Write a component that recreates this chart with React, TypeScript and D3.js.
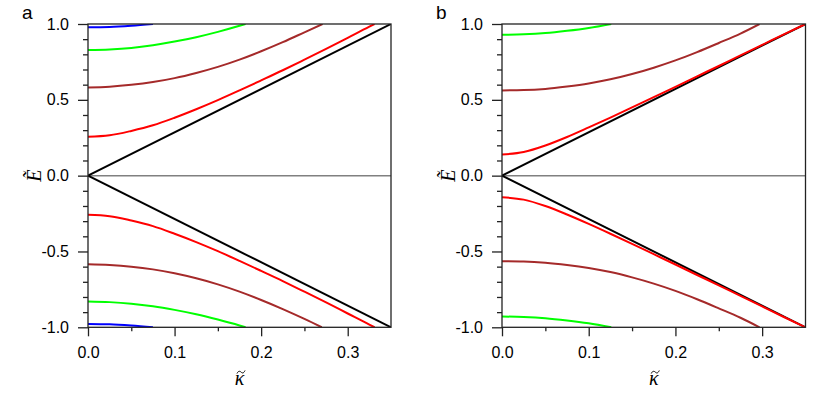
import { useRef, useEffect } from "react";
import * as d3 from "d3";

type Pt = [number, number];

// axis ticks
const kMajor = [0, 0.1, 0.2, 0.3];
const kMajorLabels = ["0.0", "0.1", "0.2", "0.3"];
const kMinor = [0.05, 0.15, 0.25];
const eMajor = [-1, -0.5, 0, 0.5, 1];
const eMajorLabels = ["-1.0", "-0.5", "0.0", "0.5", "1.0"];
const eMinor = [-0.9, -0.8, -0.7, -0.6, -0.4, -0.3, -0.2, -0.1, 0.1, 0.2, 0.3, 0.4, 0.6, 0.7, 0.8, 0.9];

// panel a bands
const aBlueUp: Pt[] = [[0, 0.978], [0.025, 0.980], [0.05, 0.988], [0.075, 1.0]];
const aBlueDown: Pt[] = [[0, -0.978], [0.025, -0.980], [0.05, -0.988], [0.075, -1.0]];
const aGreenUp: Pt[] = [[0, 0.828], [0.025, 0.832], [0.05, 0.842], [0.075, 0.86], [0.1, 0.884], [0.125, 0.913], [0.15, 0.948], [0.175, 0.988], [0.182, 1.0]];
const aGreenDown: Pt[] = [[0, -0.83], [0.025, -0.834], [0.05, -0.844], [0.075, -0.861], [0.1, -0.885], [0.125, -0.914], [0.15, -0.949], [0.175, -0.988], [0.182, -1.0]];
const aBrownUp: Pt[] = [[0, 0.582], [0.025, 0.587], [0.05, 0.599], [0.075, 0.617], [0.1, 0.643], [0.125, 0.677], [0.15, 0.717], [0.175, 0.765], [0.2, 0.82], [0.225, 0.88], [0.25, 0.945], [0.271, 1.0]];
const aBrownDown: Pt[] = [[0, -0.584], [0.025, -0.589], [0.05, -0.6], [0.075, -0.618], [0.1, -0.644], [0.125, -0.677], [0.15, -0.717], [0.175, -0.765], [0.2, -0.82], [0.225, -0.88], [0.25, -0.945], [0.27, -1.0]];
const aRedUp: Pt[] = [[0, 0.256], [0.025, 0.266], [0.05, 0.295], [0.075, 0.332], [0.1, 0.382], [0.125, 0.438], [0.15, 0.498], [0.175, 0.562], [0.2, 0.628], [0.225, 0.695], [0.25, 0.765], [0.275, 0.836], [0.3, 0.909], [0.325, 0.982], [0.331, 1.0]];
const aRedDown: Pt[] = [[0, -0.258], [0.025, -0.267], [0.05, -0.296], [0.075, -0.333], [0.1, -0.383], [0.125, -0.438], [0.15, -0.498], [0.175, -0.562], [0.2, -0.628], [0.225, -0.695], [0.25, -0.765], [0.275, -0.836], [0.3, -0.909], [0.325, -0.982], [0.331, -1.0]];
const blackUp: Pt[] = [[0, 0], [0.35, 1.0]];
const blackDown: Pt[] = [[0, 0], [0.35, -1.0]];

// panel b bands
const bGreenUp: Pt[] = [[0, 0.929], [0.025, 0.932], [0.05, 0.94], [0.075, 0.955], [0.1, 0.974], [0.126, 1.0]];
const bGreenDown: Pt[] = [[0, -0.929], [0.025, -0.932], [0.05, -0.94], [0.075, -0.955], [0.1, -0.974], [0.126, -1.0]];
const bBrownUp: Pt[] = [[0, 0.562], [0.025, 0.564], [0.05, 0.572], [0.075, 0.588], [0.1, 0.608], [0.125, 0.635], [0.15, 0.67], [0.175, 0.712], [0.2, 0.76], [0.225, 0.815], [0.25, 0.875], [0.275, 0.937], [0.297, 1.0]];
const bBrownDown: Pt[] = [[0, -0.564], [0.025, -0.566], [0.05, -0.574], [0.075, -0.589], [0.1, -0.609], [0.125, -0.636], [0.15, -0.671], [0.175, -0.712], [0.2, -0.76], [0.225, -0.815], [0.25, -0.875], [0.275, -0.937], [0.297, -1.0]];
const bRedUp: Pt[] = [[0, 0.139], [0.025, 0.156], [0.05, 0.199], [0.075, 0.255], [0.1, 0.318], [0.125, 0.383], [0.15, 0.45], [0.175, 0.518], [0.2, 0.586], [0.225, 0.655], [0.25, 0.723], [0.275, 0.793], [0.3, 0.862], [0.325, 0.932], [0.35, 1.0]];
const bRedDown: Pt[] = [[0, -0.142], [0.025, -0.158], [0.05, -0.2], [0.075, -0.256], [0.1, -0.318], [0.125, -0.383], [0.15, -0.45], [0.175, -0.518], [0.2, -0.586], [0.225, -0.655], [0.25, -0.723], [0.275, -0.793], [0.3, -0.862], [0.325, -0.932], [0.35, -1.0]];

const BLUE = "#0000ff";
const GREEN = "#00ff00";
const BROWN = "#a52a2a";
const RED = "#ff0000";
const BLACK = "#000000";

const panels = [
  {
    label: "a",
    left: 88,
    right: 391,
    curves: [
      { pts: blackUp, color: BLACK },
      { pts: blackDown, color: BLACK },
      { pts: aBlueUp, color: BLUE },
      { pts: aBlueDown, color: BLUE },
      { pts: aGreenUp, color: GREEN },
      { pts: aGreenDown, color: GREEN },
      { pts: aBrownUp, color: BROWN },
      { pts: aBrownDown, color: BROWN },
      { pts: aRedUp, color: RED },
      { pts: aRedDown, color: RED },
    ],
  },
  {
    label: "b",
    left: 502,
    right: 805.5,
    curves: [
      { pts: blackUp, color: BLACK },
      { pts: blackDown, color: BLACK },
      { pts: bGreenUp, color: GREEN },
      { pts: bGreenDown, color: GREEN },
      { pts: bBrownUp, color: BROWN },
      { pts: bBrownDown, color: BROWN },
      { pts: bRedUp, color: RED },
      { pts: bRedDown, color: RED },
    ],
  },
];

const width = 830;
const height = 396;
const top = 24;
const bottom = 327.3;
const sans = "'Liberation Sans', Arial, sans-serif";
const serif = "'Liberation Serif', 'Times New Roman', serif";
const axisColor = "#222";

export default function App() {
  const svgRef = useRef<SVGSVGElement>(null);

  useEffect(() => {
    const svg = d3.select(svgRef.current);
    svg.selectAll("*").remove();

    panels.forEach((p, pi) => {
      const x = d3.scaleLinear().domain([0, 0.35]).range([p.left, p.right]);
      const y = d3.scaleLinear().domain([-1, 1]).range([bottom, top]);
      const g = svg.append("g");

      const clipId = `clip-${pi}`;
      svg
        .append("defs")
        .append("clipPath")
        .attr("id", clipId)
        .append("rect")
        .attr("x", p.left)
        .attr("y", top)
        .attr("width", p.right - p.left)
        .attr("height", bottom - top);

      // zero line
      g.append("line")
        .attr("x1", x(0))
        .attr("x2", x(0.35))
        .attr("y1", y(0))
        .attr("y2", y(0))
        .attr("stroke", "#808080")
        .attr("stroke-width", 1.5);

      const line = d3
        .line<Pt>()
        .x((d) => x(d[0]))
        .y((d) => y(d[1]))
        .curve(d3.curveMonotoneX);

      const curves = g.append("g").attr("clip-path", `url(#${clipId})`);
      p.curves.forEach((c) => {
        curves
          .append("path")
          .attr("d", line(c.pts))
          .attr("fill", "none")
          .attr("stroke", c.color)
          .attr("stroke-width", 2);
      });

      // frame
      g.append("rect")
        .attr("x", p.left)
        .attr("y", top)
        .attr("width", p.right - p.left)
        .attr("height", bottom - top)
        .attr("fill", "none")
        .attr("stroke", axisColor)
        .attr("stroke-width", 1.3);

      // x axis
      const xMajor = g
        .append("g")
        .attr("transform", `translate(0,${bottom})`)
        .call(
          d3
            .axisBottom(x)
            .tickValues(kMajor)
            .tickSize(9)
            .tickPadding(10)
            .tickFormat((_, i) => kMajorLabels[i])
        );
      const xMinor = g
        .append("g")
        .attr("transform", `translate(0,${bottom})`)
        .call(d3.axisBottom(x).tickValues(kMinor).tickSize(4).tickFormat(() => ""));

      // y axis
      const yMajor = g
        .append("g")
        .attr("transform", `translate(${p.left},0)`)
        .call(
          d3
            .axisLeft(y)
            .tickValues(eMajor)
            .tickSize(10)
            .tickPadding(9)
            .tickFormat((_, i) => eMajorLabels[i])
        );
      const yMinor = g
        .append("g")
        .attr("transform", `translate(${p.left},0)`)
        .call(d3.axisLeft(y).tickValues(eMinor).tickSize(5).tickFormat(() => ""));

      [xMajor, xMinor, yMajor, yMinor].forEach((a) => {
        a.select(".domain").remove();
        a.selectAll(".tick line").attr("stroke", axisColor).attr("stroke-width", 1.3);
        a.selectAll(".tick text")
          .attr("fill", "#000")
          .style("font-family", sans)
          .style("font-size", "16px");
      });

      // panel letter
      g.append("text")
        .attr("x", p.left - 66)
        .attr("y", 19)
        .style("font-family", sans)
        .style("font-size", "19px")
        .text(p.label);

      // axis titles
      g.append("text")
        .attr("transform", `translate(${p.left - 47},${y(0)}) rotate(-90)`)
        .attr("text-anchor", "middle")
        .style("font-family", serif)
        .style("font-style", "italic")
        .style("font-size", "20px")
        .text("Ẽ");

      const cx = (p.left + p.right) / 2;
      g.append("text")
        .attr("x", cx)
        .attr("y", 385)
        .attr("text-anchor", "middle")
        .style("font-family", serif)
        .style("font-style", "italic")
        .style("font-size", "20px")
        .text("κ");
      // tilde accent over kappa
      g.append("path")
        .attr("transform", `translate(${cx + 1.5},${372})`)
        .attr("d", "M-4,1.5 C-2.6,-1.6 -0.8,-0.8 0.2,0.2 S2.6,1.6 4,-1.5")
        .attr("fill", "none")
        .attr("stroke", "#000")
        .attr("stroke-width", 1);
    });
  }, []);

  return (
    <svg
      ref={svgRef}
      width={width}
      height={height}
      style={{ position: "absolute", left: 0, top: 0, background: "#fff" }}
    />
  );
}
